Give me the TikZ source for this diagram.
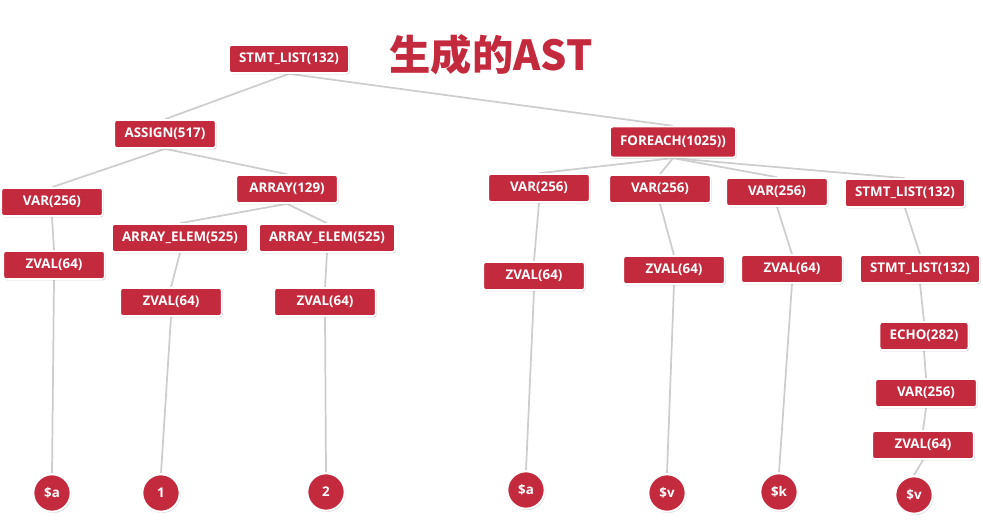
\documentclass[tikz,border=0pt]{standalone}
\usepackage{fontspec}
\setmainfont{Open Sans}
\newfontfamily\cjk{Noto Sans CJK SC}
\usetikzlibrary{shadows, backgrounds}
\definecolor{astred}{HTML}{C42A3D}
\definecolor{edgegray}{HTML}{CDCDCD}

\begin{document}
\begin{tikzpicture}[
    x=0.75pt, y=-0.75pt,
    astbox/.style={rectangle, rounded corners=2pt, fill=astred, draw=white,
                   line width=1.2pt, text=white, minimum height=21pt,
                   minimum width=76pt, inner xsep=7.5pt,
                   font=\bfseries\fontsize{10}{12}\selectfont,
                   drop shadow={opacity=0.35, shadow xshift=0.7pt, shadow yshift=-1pt}},
    leaf/.style={circle, fill=astred, draw=white, line width=1.5pt, text=white,
                 minimum size=28pt, inner sep=0pt,
                 font=\bfseries\fontsize{10}{12}\selectfont,
                 drop shadow={opacity=0.35, shadow xshift=0.7pt, shadow yshift=-1pt}},
    edge/.style={draw=edgegray, line width=1.3pt}
]
\useasboundingbox (0,0) rectangle (983,525);
\node[font=\cjk\bfseries\fontsize{31}{34}\selectfont, text=astred] (title) at (491,55) {生成的AST};
% left branch
\node[astbox] (root) at (289,59) {STMT\_LIST(132)};
\node[astbox] (assign) at (165,134) {ASSIGN(517)};
\node[astbox] (var1) at (52,202) {VAR(256)};
\node[astbox] (zval1) at (54,265) {ZVAL(64)};
\node[astbox] (array) at (287,189) {ARRAY(129)};
\node[astbox] (elem1) at (180,238) {ARRAY\_ELEM(525)};
\node[astbox] (elem2) at (327,238) {ARRAY\_ELEM(525)};
\node[astbox] (zval2) at (171,302) {ZVAL(64)};
\node[astbox] (zval3) at (325,302) {ZVAL(64)};
% right branch
\node[astbox, minimum height=23pt] (foreach) at (673,142) {FOREACH(1025))};
\node[astbox] (var2) at (539,188) {VAR(256)};
\node[astbox] (var3) at (660,189) {VAR(256)};
\node[astbox] (var4) at (777,192) {VAR(256)};
\node[astbox] (list2) at (905,193) {STMT\_LIST(132)};
\node[astbox] (zval4) at (534,276) {ZVAL(64)};
\node[astbox] (zval5) at (674,270) {ZVAL(64)};
\node[astbox] (zval6) at (792,269) {ZVAL(64)};
\node[astbox] (list3) at (920,269) {STMT\_LIST(132)};
\node[astbox, minimum width=56pt] (echo) at (924,336) {ECHO(282)};
\node[astbox] (var5) at (926,393) {VAR(256)};
\node[astbox] (zval7) at (923,445) {ZVAL(64)};
% leaves
\node[leaf] (la) at (52,493) {\$a};
\node[leaf] (l1) at (161,493) {1};
\node[leaf] (l2) at (326,492) {2};
\node[leaf] (lb) at (526,490) {\$a};
\node[leaf] (lv) at (667,493) {\$v};
\node[leaf] (lk) at (779,492) {\$k};
\node[leaf] (lw) at (914,495) {\$v};
\begin{pgfonlayer}{background}
\foreach \a/\b in {root/assign, root/foreach, assign/var1, assign/array,
                   var1/zval1, zval1/la, array/elem1, array/elem2,
                   elem1/zval2, zval2/l1, elem2/zval3, zval3/l2,
                   foreach/var2, foreach/var3, foreach/var4, foreach/list2,
                   var2/zval4, zval4/lb, var3/zval5, zval5/lv,
                   var4/zval6, zval6/lk, list2/list3, list3/echo,
                   echo/var5, var5/zval7, zval7/lw} {
    \draw[edge] (\a.south) -- (\b.north);
}
\end{pgfonlayer}
\end{tikzpicture}
\end{document}
